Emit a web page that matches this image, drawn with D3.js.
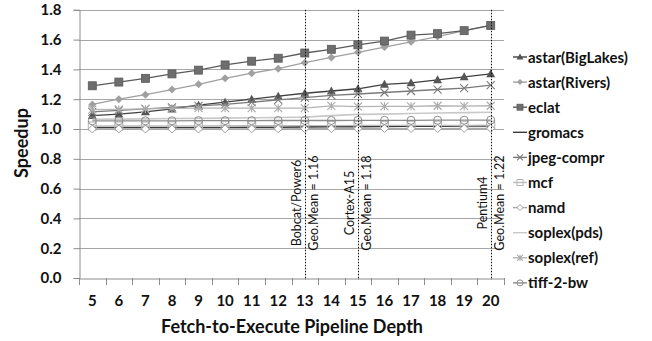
<!DOCTYPE html>
<html>
<head>
<meta charset="utf-8">
<script src="https://cdn.jsdelivr.net/npm/d3@7"></script>
<style>
  html, body { margin: 0; padding: 0; background: #fff; }
  svg { display: block; font-family: Lato, "Open Sans", "Liberation Sans", sans-serif; }
</style>
</head>
<body>
<svg id="chart" width="652" height="341"></svg>
<script>
// Pipeline depths on the x axis
const depths = [5, 6, 7, 8, 9, 10, 11, 12, 13, 14, 15, 16, 17, 18, 19, 20];

// Speedup per benchmark, one value per depth
const astarBigLakes = [1.09, 1.10, 1.115, 1.135, 1.16, 1.18, 1.20, 1.22, 1.24, 1.255, 1.27, 1.30, 1.31, 1.33, 1.35, 1.37];
const astarRivers   = [1.165, 1.20, 1.23, 1.265, 1.30, 1.34, 1.375, 1.405, 1.445, 1.48, 1.515, 1.55, 1.585, 1.62, 1.66, 1.695];
const eclat         = [1.29, 1.315, 1.34, 1.37, 1.395, 1.43, 1.455, 1.475, 1.51, 1.535, 1.565, 1.59, 1.63, 1.64, 1.66, 1.695];
const gromacs       = [1.01, 1.01, 1.01, 1.01, 1.01, 1.01, 1.012, 1.012, 1.014, 1.015, 1.016, 1.017, 1.018, 1.019, 1.02, 1.02];
const jpegCompr     = [1.115, 1.125, 1.135, 1.145, 1.155, 1.165, 1.18, 1.195, 1.21, 1.225, 1.235, 1.245, 1.255, 1.265, 1.275, 1.295];
const mcf           = [1.02, 1.02, 1.02, 1.021, 1.021, 1.022, 1.022, 1.022, 1.023, 1.023, 1.024, 1.024, 1.025, 1.025, 1.025, 1.026];
const namd          = [1.0, 1.0, 1.0, 1.0, 1.0, 1.001, 1.001, 1.001, 1.002, 1.002, 1.002, 1.003, 1.003, 1.003, 1.004, 1.004];
const soplexPds     = [1.065, 1.066, 1.068, 1.07, 1.071, 1.073, 1.075, 1.077, 1.08, 1.09, 1.098, 1.1, 1.104, 1.107, 1.11, 1.112];
const soplexRef     = [1.13, 1.132, 1.135, 1.138, 1.14, 1.14, 1.14, 1.14, 1.14, 1.155, 1.15, 1.152, 1.152, 1.156, 1.153, 1.156];
const tiff2bw       = [1.055, 1.055, 1.055, 1.055, 1.056, 1.056, 1.056, 1.057, 1.057, 1.057, 1.058, 1.058, 1.058, 1.059, 1.059, 1.06];

// Y axis ticks
const yTicks = [0, 0.2, 0.4, 0.6, 0.8, 1.0, 1.2, 1.4, 1.6, 1.8];

// Processor reference points (depth, name, geometric-mean speedup)
const refDepths = [13, 15, 20];
const refNames  = ["Bobcat/Power6", "Cortex-A15", "Pentium4"];
const refMeans  = ["1.16", "1.18", "1.22"];

const series = [
  { name: "astar(BigLakes)", values: astarBigLakes, line: "#404040", marker: "triangle", color: "#555555" },
  { name: "astar(Rivers)",   values: astarRivers,   line: "#a0a0a0", marker: "diamond",  color: "#a0a0a0" },
  { name: "eclat",           values: eclat,         line: "#5a5a5a", marker: "square",   color: "#6e6e6e" },
  { name: "gromacs",         values: gromacs,       line: "#3a3a3a", marker: "none",     color: "#3a3a3a" },
  { name: "jpeg-compr",      values: jpegCompr,     line: "#7a7a7a", marker: "x",        color: "#7a7a7a" },
  { name: "mcf",             values: mcf,           line: "#bdbdbd", marker: "squareLine", color: "#b5b5b5" },
  { name: "namd",            values: namd,          line: "#a8a8a8", marker: "diamondOpen", color: "#a0a0a0" },
  { name: "soplex(pds)",     values: soplexPds,     line: "#c8c8c8", marker: "none",     color: "#c8c8c8" },
  { name: "soplex(ref)",     values: soplexRef,     line: "#b4b4b4", marker: "asterisk", color: "#aaaaaa" },
  { name: "tiff-2-bw",       values: tiff2bw,       line: "#8c8c8c", marker: "circleLine", color: "#8c8c8c" }
];

const svg = d3.select("#chart");
const plot = { left: 79, right: 504, top: 9.8, bottom: 278 };

const x = d3.scaleBand().domain(depths).range([plot.left, plot.right]).padding(0);
const y = d3.scaleLinear().domain([0, 1.8]).range([plot.bottom, plot.top]);
const cx = d => x(d) + x.bandwidth() / 2;

// Gridlines
svg.append("g").selectAll("line").data(yTicks.filter(t => t > 0)).join("line")
  .attr("x1", plot.left).attr("x2", plot.right)
  .attr("y1", d => Math.round(y(d)) + 0.5).attr("y2", d => Math.round(y(d)) + 0.5)
  .attr("stroke", "#a6a6a6").attr("stroke-width", 1);

// Y axis
const yAxis = svg.append("g").attr("transform", `translate(${plot.left + 0.5},0)`)
  .call(d3.axisLeft(y).tickValues(yTicks).tickFormat(d3.format(".1f")).tickSize(6).tickPadding(12));
yAxis.select(".domain").attr("stroke", "#8c8c8c");
yAxis.selectAll(".tick line").attr("stroke", "#8c8c8c");
yAxis.selectAll(".tick text").attr("font-size", 15).attr("font-weight", "bold")
  .attr("fill", "#111").attr("font-family", "Lato, sans-serif");

// X axis: labels centered on categories, tick marks at band edges
const xAxis = svg.append("g").attr("transform", `translate(0,${Math.round(plot.bottom) + 0.5})`)
  .call(d3.axisBottom(x).tickSize(0).tickPadding(17));
xAxis.select(".domain").attr("stroke", "#8c8c8c");
xAxis.selectAll(".tick text").attr("font-size", 15).attr("font-weight", "bold")
  .attr("fill", "#111").attr("font-family", "Lato, sans-serif");
const edges = depths.map(d => x(d)).concat([plot.right]);
svg.append("g").selectAll("line").data(edges).join("line")
  .attr("x1", d => Math.round(d) + 0.5).attr("x2", d => Math.round(d) + 0.5)
  .attr("y1", Math.round(plot.bottom)).attr("y2", Math.round(plot.bottom) + 7)
  .attr("stroke", "#8c8c8c");

// Axis titles
svg.append("text").attr("x", 292).attr("y", 333).attr("text-anchor", "middle")
  .attr("font-size", 18).attr("font-weight", "bold").attr("fill", "#111")
  .text("Fetch-to-Execute Pipeline Depth");
svg.append("text").attr("transform", "translate(28,143) rotate(-90)").attr("text-anchor", "middle")
  .attr("font-size", 18).attr("font-weight", "bold").attr("fill", "#111")
  .text("Speedup");

// Marker drawing
function drawMarker(g, type, color, s) {
  const h = s / 2;
  switch (type) {
    case "triangle":
      g.append("path").attr("d", `M0,${-h - 0.5}L${h + 0.5},${h - 0.5}L${-h - 0.5},${h - 0.5}Z`).attr("fill", color);
      break;
    case "diamond":
      g.append("path").attr("d", `M0,${-h}L${h},0L0,${h}L${-h},0Z`).attr("fill", color);
      break;
    case "diamondOpen":
      g.append("path").attr("d", `M0,${-h}L${h},0L0,${h}L${-h},0Z`).attr("fill", "#fff").attr("stroke", color).attr("stroke-width", 1);
      break;
    case "square":
      g.append("rect").attr("x", -h).attr("y", -h).attr("width", s).attr("height", s)
        .attr("fill", color).attr("stroke", "#5a5a5a").attr("stroke-width", 0.8);
      break;
    case "squareLine":
      g.append("rect").attr("x", -h).attr("y", -h).attr("width", s).attr("height", s)
        .attr("fill", "none").attr("stroke", color).attr("stroke-width", 1);
      break;
    case "x":
      g.append("path").attr("d", `M${-h},${-h}L${h},${h}M${-h},${h}L${h},${-h}`).attr("stroke", color).attr("stroke-width", 1.1);
      break;
    case "asterisk":
      g.append("path").attr("d", `M${-h},${-h}L${h},${h}M${-h},${h}L${h},${-h}M0,${-h}L0,${h}`).attr("stroke", color).attr("stroke-width", 1.1);
      break;
    case "circleLine":
      g.append("circle").attr("r", h).attr("fill", "none").attr("stroke", color).attr("stroke-width", 1);
      break;
  }
}

// Series lines and markers
const line = d3.line().x((v, i) => cx(depths[i])).y(v => y(v));
series.forEach(s => {
  const g = svg.append("g");
  g.append("path").attr("d", line(s.values)).attr("fill", "none")
    .attr("stroke", s.line).attr("stroke-width", s.marker === "none" ? 1.6 : 1.3);
  if (s.marker !== "none") {
    s.values.forEach((v, i) => {
      const m = g.append("g").attr("transform", `translate(${cx(depths[i])},${y(v)})`);
      drawMarker(m, s.marker, s.color, 8);
    });
  }
});

// Reference processor lines with labels
refDepths.forEach((d, i) => {
  const px = Math.round(cx(d)) + 0.5;
  svg.append("line").attr("x1", px).attr("x2", px).attr("y1", plot.top).attr("y2", plot.bottom + 2)
    .attr("stroke", "#111").attr("stroke-width", 1).attr("stroke-dasharray", "1.5,1.5");
  svg.append("text").attr("transform", `translate(${px - 5},203) rotate(-90)`)
    .attr("text-anchor", "middle").attr("font-size", 12.5).attr("fill", "#111")
    .text(refNames[i]);
  svg.append("text").attr("transform", `translate(${px + 12},203) rotate(-90)`)
    .attr("text-anchor", "middle").attr("font-size", 12.5).attr("fill", "#111")
    .text("Geo.Mean = " + refMeans[i]);
});

// Legend
const legend = svg.append("g");
series.forEach((s, i) => {
  const ly = 57 + i * 25.1;
  const g = legend.append("g").attr("transform", `translate(520,${ly})`);
  g.append("line").attr("x1", -7).attr("x2", 7).attr("y1", 0).attr("y2", 0)
    .attr("stroke", s.line).attr("stroke-width", 1.4);
  if (s.marker !== "none") drawMarker(g, s.marker, s.color, 6);
  legend.append("text").attr("x", 528).attr("y", ly + 5.5)
    .attr("font-size", 15).attr("font-weight", "bold").attr("fill", "#111")
    .text(s.name);
});
</script>
</body>
</html>
